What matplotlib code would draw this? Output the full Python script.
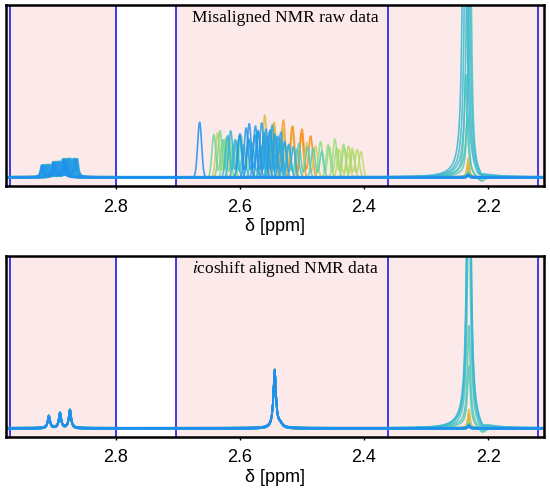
import numpy as np
import matplotlib.pyplot as plt
from matplotlib.colors import LinearSegmentedColormap

# colour index of each spectrum (0 = blue, 1 = orange)
col_idx = [0.00, 0.02, 0.04, 0.05, 0.07, 0.08, 0.10, 0.11, 0.12, 0.14, 0.15, 0.17, 0.18, 0.20,
           0.23, 0.26, 0.28, 0.30, 0.33, 0.35, 0.37, 0.40,
           0.43, 0.46, 0.49, 0.52, 0.55, 0.58, 0.61, 0.64,
           0.68, 0.72, 0.75, 0.78, 0.80,
           0.84, 0.88, 0.92, 0.96, 1.00]

# pair of peaks in the 2.4-2.67 region, raw positions and height
mid_raw = [2.665, 2.600, 2.590, 2.585, 2.575, 2.570, 2.565, 2.558, 2.552, 2.548, 2.542, 2.535, 2.528, 2.615,
           2.620, 2.608, 2.580, 2.550, 2.522, 2.505, 2.482, 2.562,
           2.642, 2.632, 2.625, 2.598, 2.470, 2.458, 2.447, 2.432,
           2.425, 2.419, 2.440, 2.492, 2.636,
           2.560, 2.545, 2.530, 2.515, 2.500]
mid_raw2 = [2.665, 2.586, 2.576, 2.571, 2.561, 2.556, 2.551, 2.544, 2.538, 2.534, 2.528, 2.521, 2.514, 2.601,
            2.606, 2.594, 2.566, 2.536, 2.508, 2.491, 2.468, 2.548,
            2.628, 2.618, 2.611, 2.584, 2.456, 2.444, 2.433, 2.418,
            2.411, 2.405, 2.426, 2.478, 2.622,
            2.546, 2.531, 2.516, 2.501, 2.486]
mid_h = [0.32, 0.25, 0.29, 0.31, 0.30, 0.26, 0.32, 0.28, 0.27, 0.30, 0.24, 0.22, 0.20, 0.27,
         0.24, 0.22, 0.20, 0.23, 0.18, 0.20, 0.17, 0.21,
         0.25, 0.27, 0.22, 0.24, 0.21, 0.19, 0.22, 0.17,
         0.18, 0.17, 0.16, 0.20, 0.26,
         0.36, 0.32, 0.33, 0.30, 0.28]
mid_h2 = [0.00, 0.22, 0.25, 0.27, 0.26, 0.23, 0.28, 0.25, 0.24, 0.26, 0.21, 0.19, 0.18, 0.24,
          0.21, 0.19, 0.18, 0.20, 0.16, 0.18, 0.15, 0.19,
          0.22, 0.24, 0.19, 0.21, 0.18, 0.17, 0.19, 0.15,
          0.16, 0.15, 0.14, 0.18, 0.23,
          0.31, 0.28, 0.29, 0.26, 0.24]
mid_aligned = 2.544

# triplet near 2.89, raw offsets of each spectrum
tri_pos = [2.908, 2.890, 2.874]
tri_h = [0.07, 0.087, 0.105]
tri_off = [0.010, -0.008, 0.004, -0.012, 0.012, 0.000, -0.004, 0.007, -0.010, 0.002, 0.009, -0.006, 0.005, -0.002,
           0.006, -0.009, 0.011, -0.003, 0.003, -0.011, 0.008, -0.005,
           0.001, -0.007, 0.010, -0.001, 0.004, -0.010, 0.007, -0.004,
           0.002, -0.006, 0.009, -0.008, 0.005,
           0.000, -0.003, 0.006, -0.009, 0.003]

# peak near 2.23 (raw position, height, half width)
ch3_raw = [2.232] * 40
ch3_raw[14:20] = [2.238, 2.235, 2.232, 2.229, 2.236, 2.233]
ch3_h = ([0.015] * 14 + [3.0, 2.6, 2.2, 1.5, 0.58, 0.35, 0.03, 0.03]
         + [0.03] * 8 + [0.04] * 5 + [0.11, 0.09, 0.08, 0.06, 0.05])
ch3_w = [0.002] * 40
ch3_w[14:20] = [0.0028] * 6
ch3_aligned = 2.231

base_off = [0.000, 0.003, -0.003, 0.002, -0.002, 0.004, -0.004, 0.001, -0.001, 0.003,
            -0.003, 0.002, -0.002, 0.000, 0.001, -0.001, 0.002, -0.002, 0.003, -0.003,
            0.000, 0.002, -0.002, 0.001, -0.001, 0.003, -0.003, 0.000, 0.002, -0.002,
            0.001, -0.001, 0.000, 0.002, -0.002, 0.001, -0.001, 0.003, -0.003, 0.000]

ppm = np.linspace(2.98, 2.11, 2500)

cmap = LinearSegmentedColormap.from_list(
    'nmr', ['#1e8ff0', '#3bbcd0', '#7fe08a', '#c8d860', '#ff8a14'])


def lor(x, x0, h, w):
    return h * w**2 / ((x - x0)**2 + w**2)


def gau(x, x0, h, w):
    return h * np.exp(-0.5 * ((x - x0) / w)**2)


def spectrum(i, aligned):
    y = np.full_like(ppm, base_off[i])
    off = 0.0 if aligned else tri_off[i]
    for p, h in zip(tri_pos, tri_h):
        y += lor(ppm, p + off, h, 0.0022)
    if aligned:
        y += lor(ppm, mid_aligned, 0.30 + mid_h[i] * 0.12, 0.0025)
        y += lor(ppm, mid_aligned - 0.009, 0.02, 0.004)
    else:
        y += gau(ppm, mid_raw[i], mid_h[i], 0.0032)
        y += gau(ppm, mid_raw2[i], mid_h2[i], 0.0032)
    c = ch3_aligned if aligned else ch3_raw[i]
    y += lor(ppm, c, ch3_h[i], ch3_w[i])
    if ch3_h[i] > 0.3:
        y += lor(ppm, c + 0.01, 0.02, 0.02)
        y -= lor(ppm, c - 0.022, 0.03, 0.006)
    return y


fig = plt.figure(figsize=(5.5, 5), dpi=100)
axes = [fig.add_axes([0.011, 0.628, 0.978, 0.362]),
        fig.add_axes([0.011, 0.126, 0.978, 0.362])]
titles = ['Misaligned NMR raw data', r'$\it{i}$coshift aligned NMR data']

plt.rcParams['mathtext.fontset'] = 'stix'

for k, ax in enumerate(axes):
    ax.axvspan(2.98, 2.80, color='#fceaea', zorder=0)
    ax.axvspan(2.703, 2.10, color='#fceaea', zorder=0)
    for v in [2.970, 2.80, 2.703, 2.362, 2.119]:
        ax.axvline(v, color='#0a0ae8', lw=1.1, zorder=1)
    order = sorted(range(40), key=lambda i: -col_idx[i])
    for i in order:
        ax.plot(ppm, spectrum(i, k == 1), color=cmap(col_idx[i]), lw=1.2, alpha=0.85, zorder=2)
    ax.set_xlim(2.977, 2.11)
    ax.set_ylim(-0.05, 1.0)
    ax.set_yticks([])
    ax.set_xticks([2.8, 2.6, 2.4, 2.2])
    ax.set_xticklabels(['2.8', '2.6', '2.4', '2.2'], family='Liberation Sans', fontsize=13)
    ax.tick_params(axis='x', length=2, width=1, pad=7)
    ax.set_xlabel('δ [ppm]', family='Liberation Sans', fontsize=13, labelpad=2)
    for s in ax.spines.values():
        s.set_linewidth(1.8)
    ax.text(0.52, 0.93, titles[k], transform=ax.transAxes, ha='center', va='center',
            family='Liberation Serif', fontsize=12.5)

fig.savefig('out.png', dpi=100)
